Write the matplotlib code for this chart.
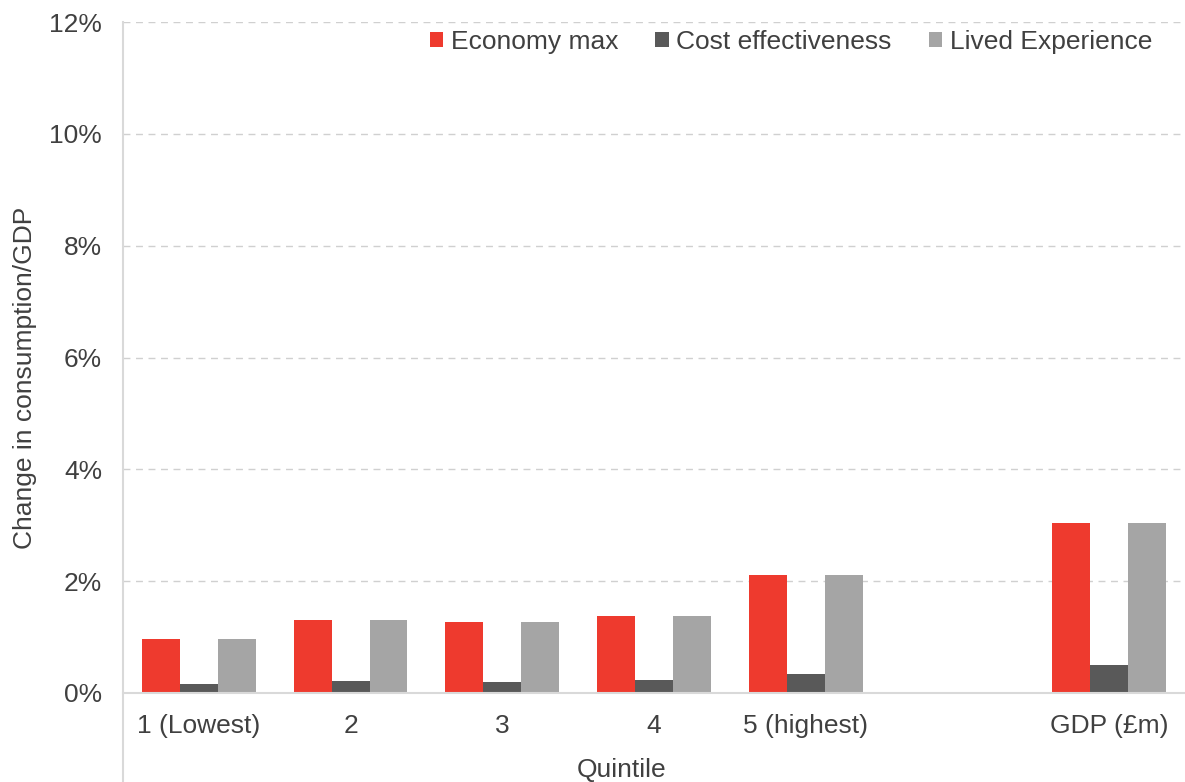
import numpy as np
import matplotlib
matplotlib.use('Agg')
import matplotlib.pyplot as plt
from matplotlib.ticker import FuncFormatter

plt.rcParams['font.family'] = ['Liberation Sans', 'DejaVu Sans']

# ------------------------------------------------------------
#  데이터 (값은 % 단위)
# ------------------------------------------------------------
categories = ['1 (Lowest)', '2', '3', '4', '5 (highest)', '', 'GDP (£m)']
economy_max = [0.97, 1.31, 1.27, 1.37, 2.11, np.nan, 3.04]
cost_eff = [0.16, 0.21, 0.20, 0.23, 0.34, np.nan, 0.50]
lived_exp = [0.97, 1.31, 1.27, 1.37, 2.11, np.nan, 3.04]

series_names = ['Economy max', 'Cost effectiveness', 'Lived Experience']
colors = ['#EE3A2E', '#595959', '#A5A5A5']
TXT = '#404040'
FS = 19

W, H = 1185, 782
fig = plt.figure(figsize=(W / 100, H / 100), dpi=100)
ax_left, ax_right = 123 / W, 1185 / W
ax_bot, ax_top = 1 - 693 / H, 1 - 22 / H
ax = fig.add_axes([ax_left, ax_bot, ax_right - ax_left, ax_top - ax_bot])

x = np.arange(len(categories))
bw = 0.25
for i, (vals, name, c) in enumerate(zip([economy_max, cost_eff, lived_exp], series_names, colors)):
    ax.bar(x + (i - 1) * bw, vals, width=bw, color=c, label=name, zorder=3)

ax.set_xlim(-0.5, len(categories) - 0.5)
ax.set_ylim(0, 12)
ax.set_yticks(np.arange(0, 13, 2))
ax.yaxis.set_major_formatter(FuncFormatter(lambda v, p: f'{v:.0f}%'))
ax.set_xticks(x)
ax.set_xticklabels(categories)
ax.tick_params(axis='both', length=0, labelsize=FS, colors=TXT)
ax.tick_params(axis='x', pad=15)
ax.tick_params(axis='y', pad=15)

ax.grid(axis='y', color='#D0D0D0', linestyle=(0, (5, 4)), linewidth=1, zorder=0)
ax.set_axisbelow(True)
for s in ['top', 'right', 'left']:
    ax.spines[s].set_visible(False)
ax.spines['bottom'].set_color('#D9D9D9')
ax.spines['bottom'].set_linewidth(1.5)
ax.spines['bottom'].set_zorder(4)

# 세로축 선은 그림 아래쪽 끝까지 연장
low = -(H - 693) / (693 - 22)
ax.plot([0, 0], [low, 1], transform=ax.transAxes, color='#D9D9D9', lw=1.5, clip_on=False)

fig.text(25 / W, 1 - 378 / H, 'Change in consumption/GDP', rotation=90,
         ha='center', va='center', fontsize=FS, color=TXT)
fig.text(622 / W, 1 - 770 / H, 'Quintile', ha='center', va='center', fontsize=FS, color=TXT)

leg = ax.legend(loc='upper right', bbox_to_anchor=((1157 - 123) / (1185 - 123) + 0.008, 1.008),
                ncol=3, frameon=False, fontsize=FS, handlelength=0.5, handleheight=0.5,
                handletextpad=0.3, columnspacing=1.4, borderaxespad=0.1)
for t in leg.get_texts():
    t.set_color(TXT)

fig.savefig('out.png', dpi=100)
